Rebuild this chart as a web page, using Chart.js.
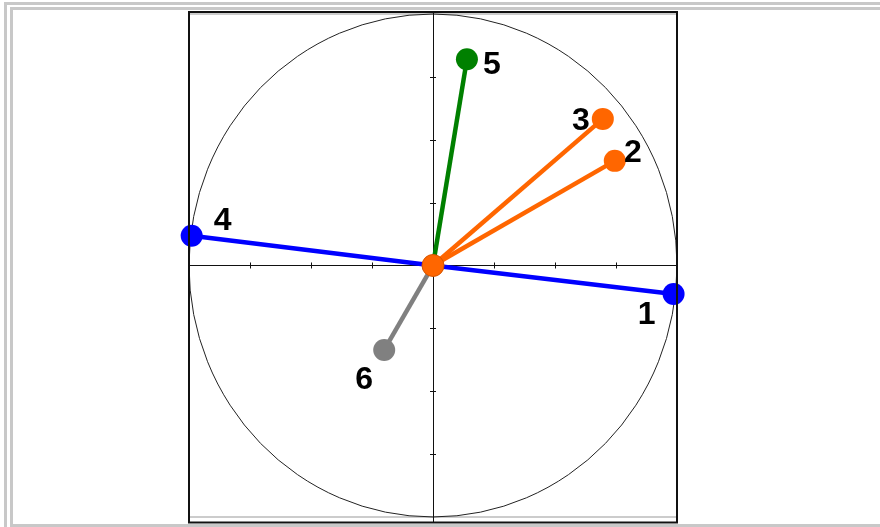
<!DOCTYPE html>
<html>
<head>
<meta charset="utf-8">
<script src="https://cdn.jsdelivr.net/npm/chart.js@4"></script>
<style>
    body { margin: 0; background: #fff; }
    #outer { position: absolute; left: 4px; top: 2px; width: 1000px; height: 600px;
             border-left: 3px solid #c8c8c8; border-top: 3px solid #c8c8c8; }
    #inner { position: absolute; left: 10px; top: 7px; width: 1000px; height: 514px;
             border: 3px solid #c8c8c8; border-right: none; }
    #myChart { position: absolute; left: 0; top: 0; }
</style>
</head>
<body>
<div id="outer"></div>
<div id="inner"></div>
<canvas id="myChart" width="880" height="527"></canvas>

<script>
// data //

const labels = ['1', '2', '3', '4', '5', '6'];
const xValues = [0.986, 0.745, 0.696, -0.989, 0.139, -0.200];
const yValues = [-0.113, 0.416, 0.583, 0.118, 0.820, -0.336];
const colors = ['#0000ff', '#ff6600', '#ff6600', '#0000ff', '#008000', '#808080'];
const tickValues = [-0.75, -0.5, -0.25, 0.25, 0.5, 0.75];

// kde lezi cislo vuci bodu (stred glyfu, v pixelech)
const labelOffsets = [[-27, 19], [18, -10], [-22, 0], [31, -17], [25, 3], [-20, 28]];

// plugin na kruh, osy a ramecek
const circlePlugin = {
    id: 'circle',
    beforeDatasetsDraw(chart) {
        const ctx = chart.ctx;
        const x = chart.scales.x, y = chart.scales.y;
        const a = chart.chartArea;
        const cx = x.getPixelForValue(0), cy = y.getPixelForValue(0);

        ctx.save();
        // seda cara na +-1
        ctx.strokeStyle = '#bbbbbb';
        ctx.lineWidth = 1.5;
        [1, -1].forEach(v => {
            let py = y.getPixelForValue(v);
            ctx.beginPath();
            ctx.moveTo(a.left, py);
            ctx.lineTo(a.right, py);
            ctx.stroke();
        });

        // jednotkovy kruh
        ctx.strokeStyle = '#222';
        ctx.lineWidth = 1;
        ctx.beginPath();
        ctx.ellipse(cx, cy, x.getPixelForValue(1) - cx, cy - y.getPixelForValue(1), 0, 0, Math.PI * 2);
        ctx.stroke();

        // osy
        ctx.strokeStyle = '#111';
        ctx.beginPath();
        ctx.moveTo(a.left, Math.round(cy) + 0.5);
        ctx.lineTo(a.right, Math.round(cy) + 0.5);
        ctx.moveTo(Math.round(cx) + 0.5, a.top);
        ctx.lineTo(Math.round(cx) + 0.5, a.bottom);
        tickValues.forEach(v => {
            let px = Math.round(x.getPixelForValue(v)) + 0.5;
            ctx.moveTo(px, cy - 3);
            ctx.lineTo(px, cy + 3);
            let py = Math.round(y.getPixelForValue(v)) + 0.5;
            ctx.moveTo(cx - 3, py);
            ctx.lineTo(cx + 3, py);
        });
        ctx.stroke();
        ctx.restore();
    },
    afterDatasetsDraw(chart) {
        const ctx = chart.ctx;
        const x = chart.scales.x, y = chart.scales.y;
        const a = chart.chartArea;

        ctx.save();
        ctx.strokeStyle = '#111';
        ctx.lineWidth = 2;
        ctx.strokeRect(a.left, a.top, a.right - a.left, a.bottom - a.top);

        ctx.fillStyle = '#000';
        ctx.font = 'bold 32px "Liberation Sans", Arial, sans-serif';
        ctx.textAlign = 'center';
        ctx.textBaseline = 'alphabetic';
        labels.forEach((lab, i) => {
            let px = x.getPixelForValue(xValues[i]) + labelOffsets[i][0];
            let py = y.getPixelForValue(yValues[i]) + labelOffsets[i][1];
            ctx.fillText(lab, px, py + 11.5);
        });
        ctx.restore();
    }
};

document.addEventListener("DOMContentLoaded", function() {

    let datasets = [{
        label: 'origin',
        data: [{ x: 0, y: 0 }],
        backgroundColor: '#ff6600',
        borderColor: '#d45500',
        pointRadius: 11,
        pointBorderWidth: 1,
        showLine: false,
        clip: false
    }];

    labels.forEach((lab, i) => {
        datasets.push({
            label: lab,
            data: [{ x: 0, y: 0 }, { x: xValues[i], y: yValues[i] }],
            showLine: true,
            borderColor: colors[i],
            backgroundColor: colors[i],
            borderWidth: 4.5,
            pointRadius: [0, 11],
            pointBorderWidth: 0,
            pointBorderColor: colors[i],
            clip: false
        });
    });

    let ctx = document.getElementById('myChart').getContext('2d');
    let myChart = new Chart(ctx, {
        type: 'scatter',
        data: { datasets: datasets },
        options: {
            responsive: false,
            animation: false,
            layout: { autoPadding: false, padding: { left: 189, right: 203, top: 12, bottom: 4.5 } },
            plugins: { legend: { display: false }, tooltip: { enabled: false } },
            scales: {
                x: { type: 'linear', min: -1, max: 1, display: false },
                y: { type: 'linear', min: -1.022, max: 1.008, display: false }
            }
        },
        plugins: [circlePlugin]
    });
});
</script>
</body>
</html>
